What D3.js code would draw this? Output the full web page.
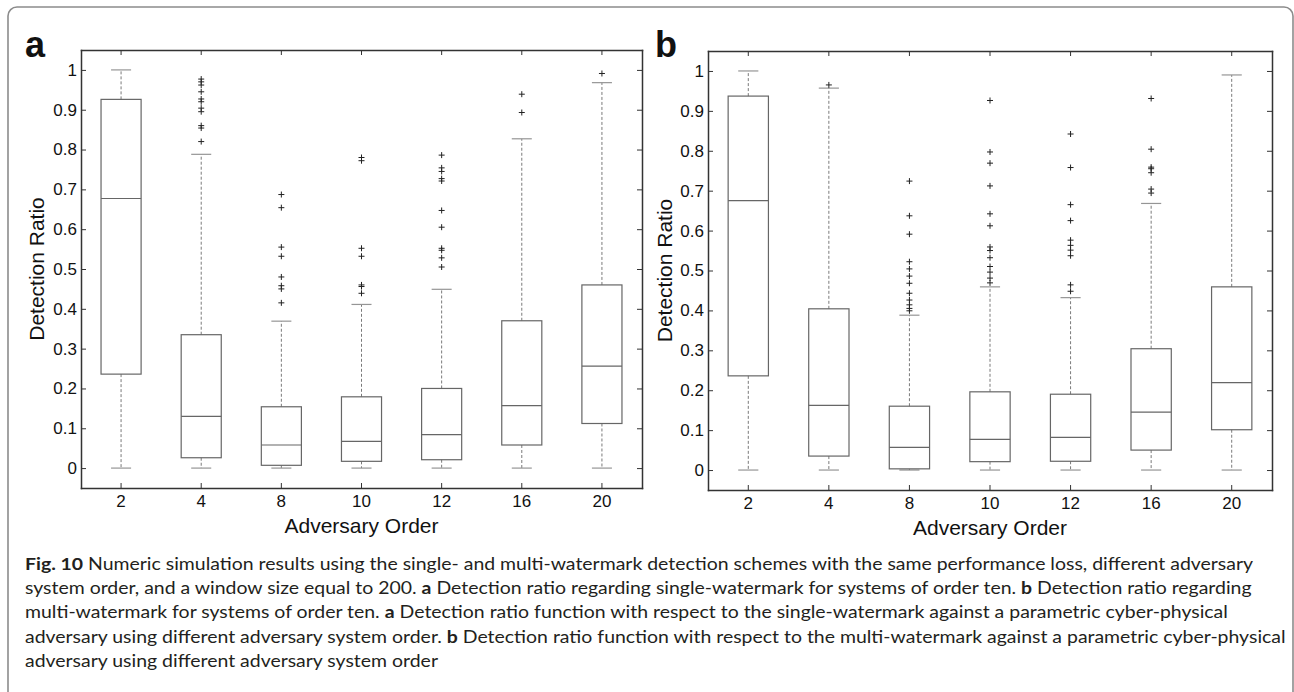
<!DOCTYPE html>
<html>
<head>
<meta charset="utf-8">
<script src="https://cdn.jsdelivr.net/npm/d3@7"></script>
<style>
  html, body { margin: 0; padding: 0; background: #fff; }
  svg { display: block; }
  .axis text { font-family: "Liberation Sans", Arial, sans-serif; font-size: 17px; fill: #111; }
  .axis path, .axis line { stroke: #333; }
  .axis path { stroke-width: 1.5; }
</style>
</head>
<body>
<svg id="fig" width="1294" height="692"></svg>
<script>
// Adversary system orders on the x axis
const orders = ["2", "4", "8", "10", "12", "16", "20"];
const yTicks = [0, 0.1, 0.2, 0.3, 0.4, 0.5, 0.6, 0.7, 0.8, 0.9, 1];

// Panel a: single-watermark detection ratio (box statistics per order)
const singleLow    = [0, 0, 0, 0, 0, 0, 0];
const singleQ1     = [0.236, 0.026, 0.007, 0.017, 0.021, 0.058, 0.112];
const singleMedian = [0.677, 0.130, 0.058, 0.067, 0.084, 0.157, 0.256];
const singleQ3     = [0.926, 0.335, 0.154, 0.179, 0.200, 0.370, 0.460];
const singleHigh   = [1.000, 0.788, 0.369, 0.411, 0.449, 0.827, 0.968];
const singleOutliers = [
  [],
  [0.977, 0.970, 0.962, 0.945, 0.927, 0.920, 0.904, 0.895, 0.860, 0.854, 0.820],
  [0.687, 0.654, 0.555, 0.532, 0.480, 0.458, 0.450, 0.415],
  [0.780, 0.772, 0.552, 0.532, 0.460, 0.456, 0.439],
  [0.786, 0.754, 0.745, 0.727, 0.721, 0.647, 0.605, 0.552, 0.547, 0.528, 0.505],
  [0.939, 0.893],
  [0.991]
];

// Panel b: multi-watermark detection ratio
const multiLow    = [0, 0, 0, 0, 0, 0, 0];
const multiQ1     = [0.236, 0.035, 0.003, 0.021, 0.022, 0.050, 0.101];
const multiMedian = [0.675, 0.162, 0.057, 0.077, 0.082, 0.145, 0.219];
const multiQ3     = [0.937, 0.404, 0.160, 0.196, 0.190, 0.304, 0.459];
const multiHigh   = [1.000, 0.957, 0.388, 0.459, 0.432, 0.668, 0.990];
const multiOutliers = [
  [],
  [0.965],
  [0.724, 0.637, 0.591, 0.522, 0.504, 0.486, 0.468, 0.443, 0.426, 0.414, 0.405, 0.399],
  [0.926, 0.797, 0.769, 0.712, 0.642, 0.612, 0.559, 0.550, 0.532, 0.510, 0.496, 0.481, 0.469],
  [0.842, 0.758, 0.665, 0.625, 0.576, 0.563, 0.551, 0.537, 0.464, 0.448],
  [0.931, 0.804, 0.759, 0.755, 0.745, 0.704, 0.694],
  []
];

// Caption lines: [text, bold] segments
const captionLines = [
  [["Fig. 10", true], [" Numeric simulation results using the single- and multi-watermark detection schemes with the same performance loss, different adversary", false]],
  [["system order, and a window size equal to 200. ", false], ["a", true], [" Detection ratio regarding single-watermark for systems of order ten. ", false], ["b", true], [" Detection ratio regarding", false]],
  [["multi-watermark for systems of order ten. ", false], ["a", true], [" Detection ratio function with respect to the single-watermark against a parametric cyber-physical", false]],
  [["adversary using different adversary system order. ", false], ["b", true], [" Detection ratio function with respect to the multi-watermark against a parametric cyber-physical", false]],
  [["adversary using different adversary system order", false]]
];
// the first caption line spans the full text column
const captionFirstLineWidth = 1228;

const svg = d3.select("#fig");

// Outer figure frame
svg.append("rect")
  .attr("x", 8).attr("y", 7)
  .attr("width", 1285).attr("height", 720)
  .attr("rx", 9).attr("ry", 9)
  .attr("fill", "none").attr("stroke", "#8c8c8c").attr("stroke-width", 1.6);

function boxPanel(cfg) {
  const { left, top, width, height, letter, letterX, labelX, low, q1, med, q3, high, outliers } = cfg;
  const g = svg.append("g");
  const x = d3.scaleBand().domain(orders).range([left, left + width]).paddingInner(0).paddingOuter(0);
  const y = d3.scaleLinear().domain([-0.05, 1.05]).range([top + height, top]);
  const bw = x.bandwidth();
  const cx = i => x(orders[i]) + bw / 2;
  const boxW = bw * 0.5, capW = bw * 0.25;

  const rows = orders.map((o, i) => ({ i, low: low[i], q1: q1[i], med: med[i], q3: q3[i], high: high[i], out: outliers[i] }));

  const items = g.selectAll("g.box").data(rows).join("g").attr("class", "box");

  // whiskers (dashed)
  items.append("line")
    .attr("x1", d => cx(d.i)).attr("x2", d => cx(d.i))
    .attr("y1", d => y(d.q3)).attr("y2", d => y(d.high))
    .attr("stroke", "#7a7a7a").attr("stroke-width", 1).attr("stroke-dasharray", "3,2");
  items.append("line")
    .attr("x1", d => cx(d.i)).attr("x2", d => cx(d.i))
    .attr("y1", d => y(d.q1)).attr("y2", d => y(d.low))
    .attr("stroke", "#7a7a7a").attr("stroke-width", 1).attr("stroke-dasharray", "3,2");
  // whisker caps
  ["high", "low"].forEach(k => {
    items.append("line")
      .attr("x1", d => cx(d.i) - capW / 2).attr("x2", d => cx(d.i) + capW / 2)
      .attr("y1", d => y(d[k])).attr("y2", d => y(d[k]))
      .attr("stroke", "#959595").attr("stroke-width", 1.2);
  });
  // box
  items.append("rect")
    .attr("x", d => cx(d.i) - boxW / 2)
    .attr("y", d => y(d.q3))
    .attr("width", boxW)
    .attr("height", d => y(d.q1) - y(d.q3))
    .attr("fill", "none").attr("stroke", "#666").attr("stroke-width", 1.2);
  // median
  items.append("line")
    .attr("x1", d => cx(d.i) - boxW / 2).attr("x2", d => cx(d.i) + boxW / 2)
    .attr("y1", d => y(d.med)).attr("y2", d => y(d.med))
    .attr("stroke", "#666").attr("stroke-width", 1.2);
  // outliers as "+" markers
  const pts = rows.flatMap(d => d.out.map(v => ({ i: d.i, v })));
  const s = 3;
  g.selectAll("path.out").data(pts).join("path")
    .attr("class", "out")
    .attr("d", d => {
      const px = cx(d.i), py = y(d.v);
      return `M${px - s},${py}H${px + s}M${px},${py - s}V${py + s}`;
    })
    .attr("stroke", "#222").attr("stroke-width", 1).attr("fill", "none");

  // axes (inward ticks, closed box)
  g.append("g").attr("class", "axis")
    .attr("transform", `translate(0,${top + height})`)
    .call(d3.axisBottom(x).tickSizeInner(-5).tickSizeOuter(0).tickPadding(7));
  g.append("g").attr("class", "axis")
    .attr("transform", `translate(0,${top})`)
    .call(d3.axisTop(x).tickSizeInner(-5).tickSizeOuter(0).tickFormat(""));
  g.append("g").attr("class", "axis")
    .attr("transform", `translate(${left},0)`)
    .call(d3.axisLeft(y).tickValues(yTicks).tickSizeInner(-5).tickSizeOuter(0).tickPadding(4).tickFormat(d3.format("")));
  g.append("g").attr("class", "axis")
    .attr("transform", `translate(${left + width},0)`)
    .call(d3.axisRight(y).tickValues(yTicks).tickSizeInner(-5).tickSizeOuter(0).tickFormat(""));
  g.selectAll(".axis path").attr("stroke-linecap", "square");

  // axis titles
  g.append("text")
    .attr("x", left + width / 2).attr("y", top + height + 45)
    .attr("text-anchor", "middle")
    .style("font-family", "'Liberation Sans', Arial, sans-serif").style("font-size", "21px").attr("fill", "#111")
    .text("Adversary Order");
  g.append("text")
    .attr("transform", `translate(${labelX},${top + height / 2}) rotate(-90)`)
    .attr("text-anchor", "middle")
    .style("font-family", "'Liberation Sans', Arial, sans-serif").style("font-size", "21px").attr("fill", "#111")
    .text("Detection Ratio");
  // panel letter
  svg.append("text")
    .attr("x", letterX).attr("y", 57)
    .style("font-family", "'Liberation Sans', Arial, sans-serif").style("font-size", "36px").style("font-weight", "bold")
    .attr("fill", "#111")
    .text(letter);
}

boxPanel({ left: 81, top: 50, width: 561, height: 438, letter: "a", letterX: 25, labelX: 44,
  low: singleLow, q1: singleQ1, med: singleMedian, q3: singleQ3, high: singleHigh, outliers: singleOutliers });
boxPanel({ left: 708, top: 51, width: 564, height: 439, letter: "b", letterX: 655, labelX: 672,
  low: multiLow, q1: multiQ1, med: multiMedian, q3: multiQ3, high: multiHigh, outliers: multiOutliers });

// Figure caption: every line gets the same horizontal condensing,
// taken from the first line filling the text column
const cap = svg.append("g");
const capTexts = captionLines.map((segs, li) => {
  const t = cap.append("text")
    .attr("x", 25).attr("y", 570 + li * 24.2)
    .style("font-family", "Lato, 'Open Sans', sans-serif").style("font-size", "17px")
    .attr("fill", "#231f20");
  segs.forEach(([txt, bold]) => {
    t.append("tspan").style("font-weight", bold ? "bold" : "normal").text(txt);
  });
  return t;
});
const natural = capTexts.map(t => t.node().getComputedTextLength());
const squeeze = captionFirstLineWidth / natural[0];
capTexts.forEach((t, i) => {
  t.attr("textLength", natural[i] * squeeze).attr("lengthAdjust", "spacingAndGlyphs");
});
</script>
</body>
</html>
